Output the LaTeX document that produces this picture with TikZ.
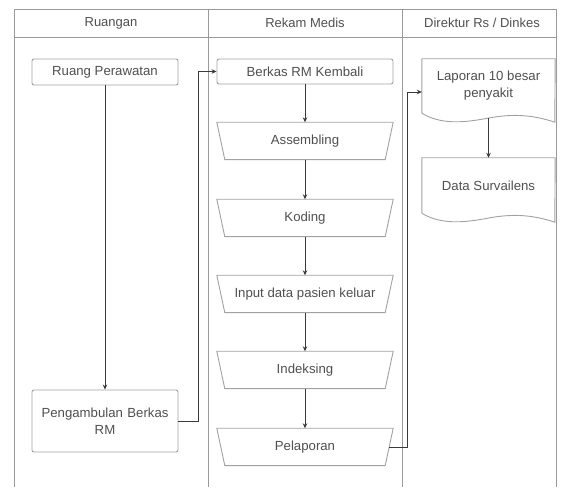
\documentclass[tikz,border=0pt]{standalone}
\usepackage{fontspec}
\setmainfont{Liberation Sans}
\usetikzlibrary{arrows.meta,calc}

\definecolor{lane}{HTML}{9A9A9A}
\definecolor{edge}{HTML}{A2A2A2}
\definecolor{ink}{HTML}{505050}
\definecolor{wire}{HTML}{3A3A3A}

\tikzset{
  lanes/.style={draw=lane, line width=0.9pt},
  title/.style={text=ink, font=\fontsize{13}{15}\selectfont},
  box/.style={draw=edge, line width=0.9pt, rounded corners=2pt, text=ink,
    font=\fontsize{13.2}{17}\selectfont, align=center, inner sep=2pt},
  % manual-operation symbol; its outline is drawn from the node's corners
  trap/.style={rectangle, minimum width=176pt, minimum height=37pt, text=ink,
    font=\fontsize{13.2}{15}\selectfont, inner sep=1pt},
  trapline/.style={draw=edge, line width=0.9pt, line join=round},
  docnode/.style={text=ink, font=\fontsize{13.2}{17}\selectfont, align=center,
    minimum width=133pt, inner sep=0pt},
  arr/.style={draw=wire, line width=0.7pt, -{Stealth[length=5pt,width=4.5pt]}}
}

% outline of a document symbol with a wavy lower edge
\newcommand\docoutline[1]{%
  \draw[draw=edge, line width=0.9pt]
    (#1.south west) -- (#1.north west) -- (#1.north east)
    -- ($(#1.south west)+(133,9)$)
    .. controls ($(#1.south west)+(112,2)$) and ($(#1.south west)+(92,0)$)
    .. ($(#1.south west)+(66,5)$)
    .. controls ($(#1.south west)+(40,10)$) and ($(#1.south west)+(18,11)$)
    .. (#1.south west);}

\begin{document}
\begin{tikzpicture}[x=1pt, y=-1pt]
  \useasboundingbox[fill=white] (0,0) rectangle (566,489);

  % swimlanes
  \draw[lanes] (14,9) -- (556,9);
  \draw[lanes] (14,37) -- (556,37);
  \foreach \x in {14,208,402,556} \draw[lanes] (\x,9) -- (\x,487);
  \node[title] (hr) at (111,23) {Ruangan};
  \node[title] (hm) at (305,23) {Rekam Medis};
  \node[title] (hd) at (482,23) {Direktur Rs / Dinkes};

  % Ruangan
  \node[box, minimum width=146pt, minimum height=26pt] (rp) at (105,72) {Ruang Perawatan};
  \node[box, minimum width=146pt, minimum height=62pt, text width=140pt] (peng) at (105,421)
    {Pengambulan Berkas\\RM};

  % Rekam Medis
  \node[box, minimum width=176pt, minimum height=25pt] (bk) at (305,71.5) {Berkas RM Kembali};
  \node[trap] (as) at (305,141) {Assembling};
  \node[trap] (ko) at (305,218) {Koding};
  \node[trap] (in) at (305,294) {Input data pasien keluar};
  \node[trap] (ix) at (305,370) {Indeksing};
  \node[trap] (pl) at (305,447) {Pelaporan};
  \foreach \n in {as,ko,in,ix,pl}
    \draw[trapline] (\n.north west) -- (\n.north east)
      -- ([xshift=-8pt]\n.south east) -- ([xshift=8pt]\n.south west) -- cycle;

  % Direktur Rs / Dinkes
  \node[docnode, minimum height=54pt] (lap) at (488.5,86) {Laporan 10 besar\\penyakit};
  \docoutline{lap}
  \node[docnode, minimum height=55pt] (ds) at (488.5,185.5) {Data Survailens};
  \docoutline{ds}
  \coordinate (lapbot) at (488.5,118);

  % flow
  \draw[arr] (rp.south) -- (peng.north);
  \draw[arr] (peng.east) -- ++(20,0) |- (bk.west);
  \draw[arr] (bk.south) -- (as.north);
  \draw[arr] (as.south) -- (ko.north);
  \draw[arr] (ko.south) -- (in.north);
  \draw[arr] (in.south) -- (ix.north);
  \draw[arr] (ix.south) -- (pl.north);
  \draw[arr] ([xshift=-4pt]pl.east) -- ++(18,0) |- ([yshift=-6pt]lap.west);
  \draw[arr] (lapbot) -- (ds.north);
\end{tikzpicture}
\end{document}
